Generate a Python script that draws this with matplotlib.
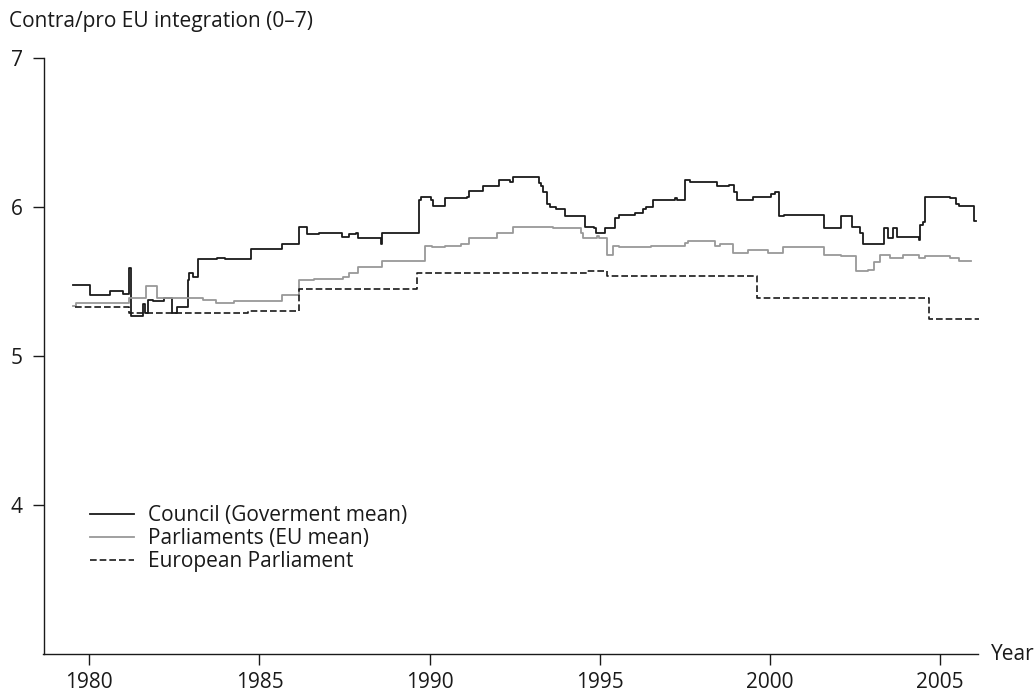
import matplotlib
matplotlib.use("Agg")
import matplotlib.pyplot as plt

plt.rcParams['font.family'] = ['Open Sans', 'DejaVu Sans']

# Council (government mean) - step changes (year, value)
council_year = [1979.53, 1980.02, 1980.61, 1981.00, 1981.18, 1981.22, 1981.58, 1981.63,
                1981.71, 1981.88, 1982.18, 1982.42, 1982.58, 1982.90, 1982.94, 1983.06,
                1983.18, 1983.76, 1984.00, 1984.75, 1985.66, 1986.17, 1986.40, 1986.76,
                1987.41, 1987.64, 1987.84, 1987.88, 1988.56, 1988.59, 1989.70, 1989.74,
                1990.05, 1990.11, 1990.45, 1991.09, 1991.16, 1991.58, 1992.05, 1992.35,
                1992.45, 1993.21, 1993.26, 1993.34, 1993.44, 1993.54, 1993.71, 1993.98,
                1994.56, 1994.84, 1994.88, 1995.16, 1995.45, 1995.57, 1996.04, 1996.26,
                1996.36, 1996.55, 1997.22, 1997.26, 1997.49, 1997.65, 1998.44, 1998.80,
                1998.95, 1999.04, 1999.50, 2000.02, 2000.15, 2000.25, 2000.42, 2001.60,
                2002.08, 2002.42, 2002.65, 2002.72, 2003.36, 2003.48, 2003.60, 2003.72,
                2004.37, 2004.41, 2004.49, 2004.56, 2005.29, 2005.47, 2005.54, 2006.00,
                2006.06]
council_val = [5.48, 5.41, 5.44, 5.42, 5.59, 5.27, 5.35, 5.29,
               5.38, 5.37, 5.39, 5.29, 5.33, 5.51, 5.56, 5.53,
               5.65, 5.66, 5.65, 5.72, 5.75, 5.87, 5.82, 5.83,
               5.80, 5.82, 5.83, 5.79, 5.75, 5.83, 6.05, 6.07,
               6.05, 6.01, 6.06, 6.07, 6.11, 6.14, 6.18, 6.17,
               6.20, 6.16, 6.14, 6.10, 6.02, 6.00, 5.99, 5.94,
               5.87, 5.86, 5.83, 5.86, 5.93, 5.95, 5.96, 5.99,
               6.00, 6.05, 6.06, 6.05, 6.18, 6.17, 6.14, 6.15,
               6.10, 6.05, 6.07, 6.09, 6.10, 5.94, 5.95, 5.86,
               5.94, 5.87, 5.83, 5.75, 5.86, 5.79, 5.86, 5.80,
               5.78, 5.88, 5.90, 6.07, 6.06, 6.02, 6.01, 5.91,
               5.91]

# National parliaments (EU mean)
parl_year = [1979.53, 1979.61, 1981.18, 1981.66, 1982.00, 1983.35, 1983.71, 1984.24,
             1985.66, 1986.17, 1986.59, 1987.44, 1987.64, 1987.89, 1988.59, 1989.86,
             1990.07, 1990.45, 1990.91, 1991.16, 1991.97, 1992.45, 1993.62, 1994.44,
             1994.51, 1994.91, 1994.99, 1995.20, 1995.38, 1995.57, 1996.51, 1997.51,
             1997.60, 1998.37, 1998.54, 1998.90, 1999.36, 1999.95, 2000.39, 2001.60,
             2002.08, 2002.53, 2002.89, 2003.07, 2003.24, 2003.53, 2003.90, 2004.37,
             2004.56, 2005.29, 2005.54, 2005.90]
parl_val = [5.34, 5.36, 5.39, 5.47, 5.39, 5.38, 5.36, 5.37,
            5.41, 5.51, 5.52, 5.53, 5.56, 5.60, 5.64, 5.74,
            5.73, 5.74, 5.75, 5.79, 5.83, 5.87, 5.86, 5.83,
            5.79, 5.81, 5.79, 5.68, 5.74, 5.73, 5.74, 5.76,
            5.77, 5.74, 5.75, 5.69, 5.71, 5.69, 5.73, 5.68,
            5.67, 5.57, 5.58, 5.63, 5.68, 5.66, 5.68, 5.66,
            5.67, 5.66, 5.64, 5.64]

# European Parliament
ep_year = [1979.57, 1981.18, 1984.65, 1986.17, 1989.62, 1994.63, 1995.20, 1999.62,
           2004.66, 2006.15]
ep_val = [5.33, 5.29, 5.30, 5.45, 5.56, 5.57, 5.54, 5.39, 5.25, 5.25]

year_ticks = [1980, 1985, 1990, 1995, 2000, 2005]
value_ticks = [4, 5, 6, 7]

ink = '#1a1a1a'
fs = 15

fig = plt.figure(figsize=(10.36, 6.95), dpi=100)
ax = fig.add_axes([43.5 / 1036, 1 - 654 / 695, 934.8 / 1036, 595.7 / 695])

ax.plot(council_year, council_val, drawstyle='steps-post', color=ink, lw=1.3,
        label='Council (Goverment mean)')
ax.plot(parl_year, parl_val, drawstyle='steps-post', color='#999999', lw=1.3,
        label='Parliaments (EU mean)')
ax.plot(ep_year, ep_val, drawstyle='steps-post', color=ink, lw=1.2, clip_on=False,
        linestyle=(0, (4, 1.8)), label='European Parliament')

ax.set_xlim(1978.654, 2006.12)
ax.set_ylim(3, 7)
ax.set_xticks(year_ticks)
ax.set_yticks(value_ticks)
ax.tick_params(axis='both', labelsize=fs, length=8, width=1, color=ink, labelcolor=ink)
ax.tick_params(axis='x', pad=5)
ax.tick_params(axis='y', pad=7)

for s in ['top', 'right']:
    ax.spines[s].set_visible(False)
for s in ['left', 'bottom']:
    ax.spines[s].set_linewidth(1)
    ax.spines[s].set_color(ink)

ax.text(1.0135, 0.0, 'Year', transform=ax.transAxes, fontsize=fs, color=ink,
        ha='left', va='center')
fig.text(9 / 1036, 1 - 21 / 695, 'Contra/pro EU integration (0–7)', fontsize=fs,
         color=ink, ha='left', va='center')

leg = ax.legend(loc='upper left', bbox_to_anchor=(0.0497, 0.250), frameon=False,
                fontsize=fs, handlelength=2.1, handletextpad=0.7, labelspacing=0.1,
                borderaxespad=0, borderpad=0)
for t in leg.get_texts():
    t.set_color(ink)

fig.savefig('out.png', dpi=100)
